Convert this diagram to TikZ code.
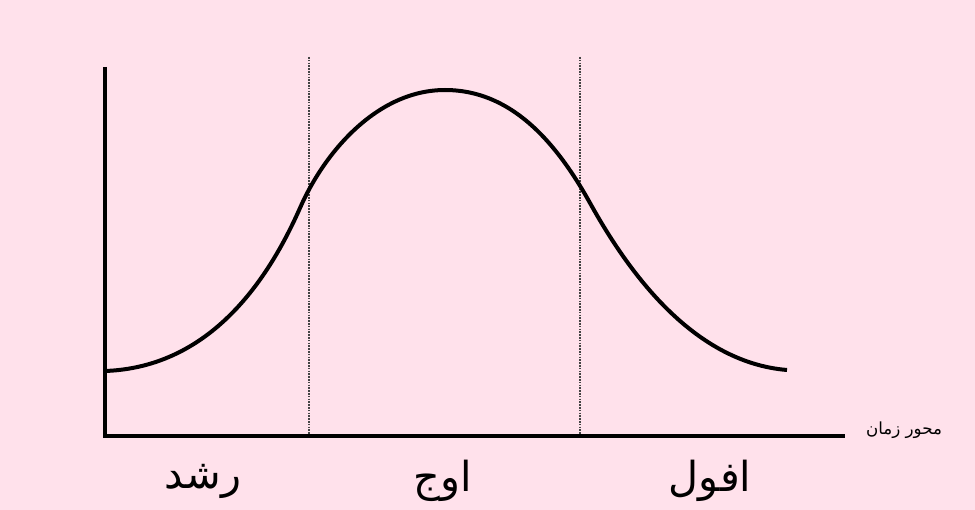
\documentclass[tikz,border=0pt]{standalone}
\usepackage{fontspec}
\newfontfamily\arabicfont[Script=Arabic]{DejaVu Sans}
\TeXXeTstate=1
\definecolor{bgpink}{HTML}{FFE1EB}
\definecolor{divgray}{HTML}{444444}
\begin{document}
\begin{tikzpicture}[x=0.75pt,y=-0.75pt,
  axisline/.style={line width=3pt},
  curveline/.style={line width=3pt},
  divider/.style={draw=divgray,line width=0.9pt,dash pattern=on 1.2pt off 0.9pt},
  phase/.style={font=\arabicfont\fontsize{31}{34}\selectfont,inner sep=0pt},
  axislabel/.style={font=\arabicfont\fontsize{12.5}{14}\selectfont,inner sep=0pt}]
\fill[bgpink] (0,0) rectangle (975,510);
\useasboundingbox (0,0) rectangle (975,510);
\coordinate (top) at (105,67);
\coordinate (origin) at (105,436);
\coordinate (xend) at (845,436);
\coordinate (d1top) at (309,57);
\coordinate (d1bot) at (309,436);
\coordinate (d2top) at (580,57);
\coordinate (d2bot) at (580,436);
\draw[divider] (d1top) -- (d1bot);
\draw[divider] (d2top) -- (d2bot);
\draw[axisline] (top) -- (origin) -- (xend);
\coordinate (c0) at (105,371);
\coordinate (c1) at (300,208);
\coordinate (c2) at (445,90);
\coordinate (c3) at (590,203);
\coordinate (c4) at (787,370);
\draw[curveline] (c0) .. controls (190,368) and (255,310) .. (c1)
  .. controls (325,151) and (378,90) .. (c2)
  .. controls (510,90) and (555,140) .. (c3)
  .. controls (625,266) and (690,362) .. (c4);
\node[phase] (rosh) at (203,481) {\beginR رشد\endR};
\node[phase] (owj) at (443,481) {\beginR اوج\endR};
\node[phase] (ofool) at (710,481) {\beginR افول\endR};
\node[axislabel] (zaman) at (904,430) {\beginR محور زمان\endR};
\end{tikzpicture}
\end{document}
